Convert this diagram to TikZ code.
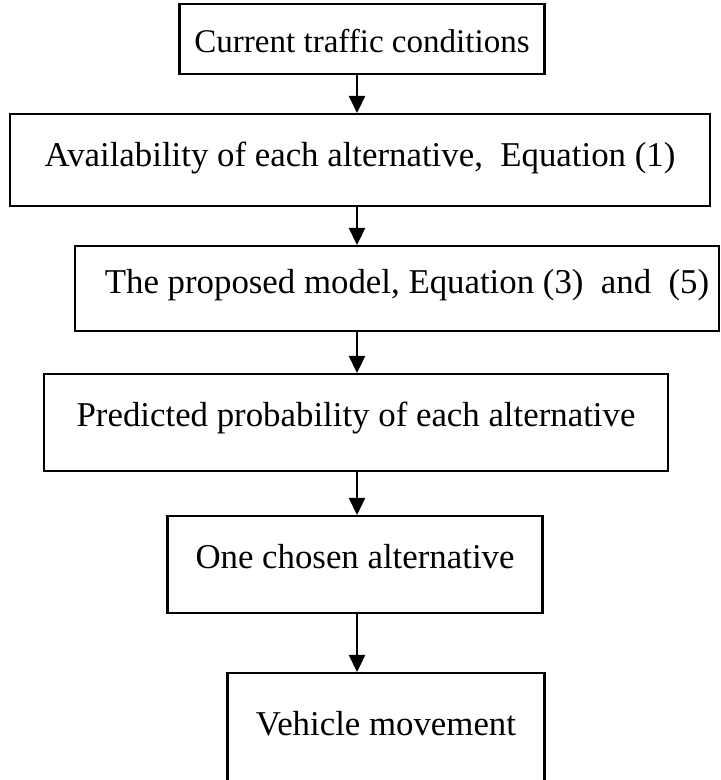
\documentclass[tikz,border=0pt]{standalone}
\usepackage{fontspec}
\setmainfont{Liberation Serif}
\usepackage{tikz}
\usetikzlibrary{arrows.meta,calc}

\begin{document}
\begin{tikzpicture}[x=0.01cm,y=-0.01cm,
  box/.style={draw,line width=0.65pt,inner sep=0pt,anchor=north,font=\fontsize{9.9}{11}\selectfont},
  flow/.style={line width=0.65pt,-{Triangle[width=0.16cm,length=0.17cm]}}]

\useasboundingbox (0,0) rectangle (720,780);

\coordinate [] (axis) at (357,0);

\node [box,minimum width=3.65cm,text height=0.48cm,text depth=0.22cm,font=\fontsize{9.4}{11}\selectfont] (traffic) at (362,3) {Current traffic conditions};
\node [box,minimum width=7.0cm,text height=0.52cm,text depth=0.40cm] (avail) at (360,113) {Availability of each alternative, \ Equation (1)};
\node [box,minimum width=6.44cm,text height=0.47cm,text depth=0.38cm] (model) at (397,245) {\hspace{0.2cm}The proposed model, Equation (3) \ and \ (5)};
\node [box,minimum width=6.23cm,text height=0.52cm,text depth=0.45cm] (prob) at (356,373) {Predicted probability of each alternative};
\node [box,minimum width=3.75cm,text height=0.52cm,text depth=0.45cm] (choice) at (355,515) {One chosen alternative};
\node [box,minimum width=3.17cm,text height=0.62cm,text depth=0.66cm] (move) at (386,672) {Vehicle movement\hspace{0.25cm}};

\draw [flow] (traffic.south -| axis) -- (avail.north -| axis);
\draw [flow] (avail.south -| axis) -- (model.north -| axis);
\draw [flow] (model.south -| axis) -- (prob.north -| axis);
\draw [flow] (prob.south -| axis) -- (choice.north -| axis);
\draw [flow] (choice.south -| axis) -- (move.north -| axis);

\end{tikzpicture}
\end{document}
